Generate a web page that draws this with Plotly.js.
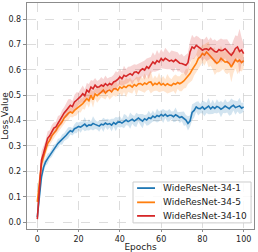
<!DOCTYPE html>
<html>
<head>
<meta charset="utf-8">
<script src="https://cdn.plot.ly/plotly-3.0.1.min.js"></script>
<style>html,body{margin:0;padding:0;background:#fff;}#chart{width:258px;height:252px;}</style>
</head>
<body>
<div id="chart"></div>
<script>
const epochs = Array.from({length: 101}, (_, i) => i);
const seriesNames = ["WideResNet-34-1", "WideResNet-34-5", "WideResNet-34-10"];
const seriesColors = ["#1f77b4", "#ff7f0e", "#d62728"];
const bandColors = ["rgba(31,119,180,0.2)", "rgba(255,127,14,0.2)", "rgba(214,39,40,0.2)"];

const wrn1 = [0.02,0.11,0.178,0.215,0.237,0.25,0.262,0.275,0.29,0.298,
0.31,0.318,0.325,0.335,0.342,0.352,0.36,0.356,0.368,0.372,
0.377,0.374,0.381,0.386,0.377,0.383,0.381,0.389,0.385,0.38,
0.378,0.386,0.383,0.39,0.385,0.388,0.382,0.392,0.386,0.394,
0.395,0.39,0.398,0.402,0.396,0.40,0.405,0.398,0.403,0.41,
0.404,0.398,0.407,0.402,0.411,0.408,0.418,0.412,0.42,0.416,
0.424,0.418,0.425,0.417,0.421,0.421,0.415,0.423,0.418,0.412,
0.415,0.408,0.402,0.389,0.398,0.432,0.44,0.454,0.448,0.447,
0.454,0.445,0.45,0.457,0.446,0.454,0.448,0.456,0.452,0.445,
0.45,0.457,0.452,0.447,0.455,0.46,0.451,0.456,0.458,0.449,0.454];

const wrn5 = [0.08,0.165,0.23,0.257,0.283,0.31,0.322,0.34,0.35,0.36,
0.375,0.383,0.395,0.41,0.42,0.428,0.434,0.43,0.44,0.448,
0.453,0.46,0.467,0.475,0.486,0.478,0.5,0.482,0.505,0.498,
0.507,0.512,0.52,0.508,0.517,0.52,0.513,0.524,0.526,0.519,
0.533,0.527,0.535,0.53,0.538,0.539,0.532,0.542,0.536,0.545,
0.546,0.54,0.548,0.543,0.551,0.552,0.539,0.547,0.542,0.55,
0.54,0.546,0.538,0.545,0.54,0.538,0.546,0.543,0.55,0.545,
0.55,0.556,0.566,0.574,0.585,0.6,0.612,0.625,0.644,0.651,
0.664,0.658,0.67,0.66,0.65,0.642,0.634,0.625,0.632,0.645,
0.638,0.63,0.632,0.625,0.611,0.628,0.64,0.632,0.638,0.628,0.636];

const wrn10 = [0.012,0.14,0.244,0.27,0.30,0.33,0.34,0.355,0.37,0.375,
0.39,0.40,0.414,0.43,0.44,0.452,0.46,0.455,0.473,0.48,
0.486,0.495,0.506,0.498,0.52,0.512,0.532,0.525,0.54,0.531,
0.533,0.54,0.535,0.545,0.538,0.546,0.541,0.552,0.556,0.562,
0.572,0.565,0.578,0.574,0.58,0.585,0.579,0.59,0.592,0.586,
0.598,0.604,0.599,0.612,0.606,0.618,0.631,0.624,0.636,0.63,
0.644,0.636,0.645,0.64,0.634,0.638,0.632,0.64,0.631,0.626,
0.625,0.62,0.618,0.628,0.67,0.69,0.684,0.696,0.688,0.684,
0.677,0.682,0.683,0.678,0.686,0.677,0.672,0.67,0.68,0.675,
0.677,0.683,0.672,0.665,0.657,0.668,0.684,0.69,0.672,0.678,0.664];

const spread1 = [0.01,0.02,0.02,0.02,0.015,0.02,0.012,0.018,0.015,0.012,
0.018,0.012,0.02,0.015,0.018,0.022,0.015,0.015,0.018,0.022,
0.015,0.022,0.015,0.028,0.015,0.022,0.015,0.028,0.018,0.015,
0.022,0.015,0.028,0.015,0.022,0.015,0.025,0.015,0.028,0.018,
0.022,0.015,0.028,0.02,0.015,0.032,0.018,0.02,0.028,0.015,
0.022,0.028,0.015,0.022,0.028,0.018,0.022,0.015,0.028,0.02,
0.018,0.028,0.015,0.022,0.025,0.015,0.022,0.028,0.015,0.022,
0.018,0.028,0.02,0.028,0.022,0.032,0.028,0.02,0.028,0.018,
0.025,0.028,0.02,0.032,0.02,0.028,0.018,0.028,0.02,0.032,
0.02,0.028,0.02,0.028,0.032,0.02,0.028,0.02,0.032,0.02,0.018];

const spread5 = [0.015,0.03,0.03,0.025,0.02,0.022,0.018,0.022,0.02,0.018,
0.022,0.018,0.022,0.02,0.022,0.028,0.02,0.018,0.022,0.028,
0.02,0.028,0.02,0.032,0.02,0.028,0.022,0.032,0.02,0.028,
0.025,0.02,0.032,0.025,0.02,0.038,0.022,0.025,0.032,0.02,
0.025,0.032,0.022,0.038,0.025,0.03,0.025,0.02,0.038,0.025,
0.03,0.025,0.038,0.025,0.03,0.045,0.025,0.03,0.025,0.038,
0.025,0.03,0.025,0.038,0.03,0.025,0.03,0.038,0.025,0.03,
0.035,0.03,0.038,0.03,0.035,0.042,0.035,0.035,0.042,0.035,
0.035,0.042,0.035,0.05,0.035,0.042,0.055,0.035,0.042,0.05,
0.035,0.042,0.05,0.035,0.06,0.042,0.035,0.05,0.042,0.035,0.03];

const spread10 = [0.01,0.03,0.035,0.03,0.022,0.028,0.022,0.028,0.022,0.02,
0.028,0.022,0.028,0.022,0.028,0.032,0.025,0.022,0.028,0.032,
0.025,0.028,0.032,0.025,0.028,0.032,0.028,0.032,0.028,0.025,
0.028,0.032,0.028,0.032,0.028,0.025,0.032,0.028,0.038,0.028,
0.032,0.028,0.038,0.028,0.032,0.028,0.038,0.032,0.028,0.038,
0.032,0.028,0.038,0.032,0.042,0.032,0.038,0.032,0.042,0.032,
0.038,0.032,0.042,0.038,0.032,0.038,0.042,0.032,0.038,0.032,
0.038,0.032,0.042,0.038,0.042,0.048,0.042,0.038,0.042,0.038,
0.042,0.038,0.048,0.038,0.042,0.038,0.048,0.042,0.038,0.048,
0.042,0.038,0.048,0.042,0.038,0.048,0.052,0.042,0.09,0.048,0.038];

const yTicks = [0.0, 0.1, 0.2, 0.3, 0.4, 0.5, 0.6, 0.7, 0.8];
const xTicks = [0, 20, 40, 60, 80, 100];

const means = [wrn1, wrn5, wrn10];
const spreads = [spread1, spread5, spread10];
const traces = [];
means.forEach((m, k) => {
  const s = spreads[k];
  traces.push({x: epochs, y: m.map((v, i) => v + s[i]), type: 'scatter', mode: 'lines',
    line: {width: 0, color: bandColors[k]}, showlegend: false, hoverinfo: 'skip'});
  traces.push({x: epochs, y: m.map((v, i) => v - s[i]), type: 'scatter', mode: 'lines',
    line: {width: 0, color: bandColors[k]}, fill: 'tonexty', fillcolor: bandColors[k],
    showlegend: false, hoverinfo: 'skip'});
  traces.push({x: epochs, y: m, type: 'scatter', mode: 'lines', name: seriesNames[k],
    line: {width: 1.6, color: seriesColors[k]}, showlegend: false});
});

// hand-built legend (matplotlib-style compact rows), in plot-area fractions
const legBox = {x0: 0.467, x1: 0.987, y0: 0.027, y1: 0.208};
const legRows = [0.181, 0.118, 0.058];
const shapes = [{type: 'rect', xref: 'paper', yref: 'paper', x0: legBox.x0, x1: legBox.x1,
  y0: legBox.y0, y1: legBox.y1, line: {color: '#cccccc', width: 1}, fillcolor: 'rgba(255,255,255,0.85)', layer: 'above'}];
const annotations = [];
seriesNames.forEach((n, k) => {
  shapes.push({type: 'line', xref: 'paper', yref: 'paper', x0: 0.485, x1: 0.564,
    y0: legRows[k], y1: legRows[k], line: {color: seriesColors[k], width: 1.8}, layer: 'above'});
  annotations.push({xref: 'paper', yref: 'paper', x: 0.59, y: legRows[k], xanchor: 'left', yanchor: 'middle',
    text: n, showarrow: false, font: {family: 'DejaVu Sans', size: 9, color: '#222'}});
});

const axisCommon = {
  showline: true, mirror: true, linecolor: '#8c8c8c', linewidth: 1.2,
  showgrid: true, gridcolor: '#d3d3d3', griddash: 'dash', gridwidth: 0.8,
  zeroline: false, ticks: 'outside', ticklen: 3, tickcolor: '#8c8c8c',
  tickfont: {family: 'DejaVu Sans', size: 8, color: '#222'}
};

const layout = {
  width: 258, height: 252,
  margin: {l: 27, r: 4, t: 3, b: 23},
  paper_bgcolor: '#fff', plot_bgcolor: '#fff',
  xaxis: Object.assign({}, axisCommon, {
    range: [-5, 105], tickvals: xTicks, ticktext: xTicks.map(String), ticklen: 2,
    title: {text: 'Epochs', font: {family: 'DejaVu Sans', size: 9, color: '#222'}, standoff: 0}
  }),
  yaxis: Object.assign({}, axisCommon, {
    range: [-0.027, 0.863], tickvals: yTicks, ticktext: yTicks.map(v => v.toFixed(1)),
    title: {text: 'Loss Value', font: {family: 'DejaVu Sans', size: 9, color: '#222'}, standoff: 3}
  }),
  shapes: shapes,
  annotations: annotations,
  showlegend: false
};

Plotly.newPlot('chart', traces, layout, {displayModeBar: false, staticPlot: true});
</script>
</body>
</html>
